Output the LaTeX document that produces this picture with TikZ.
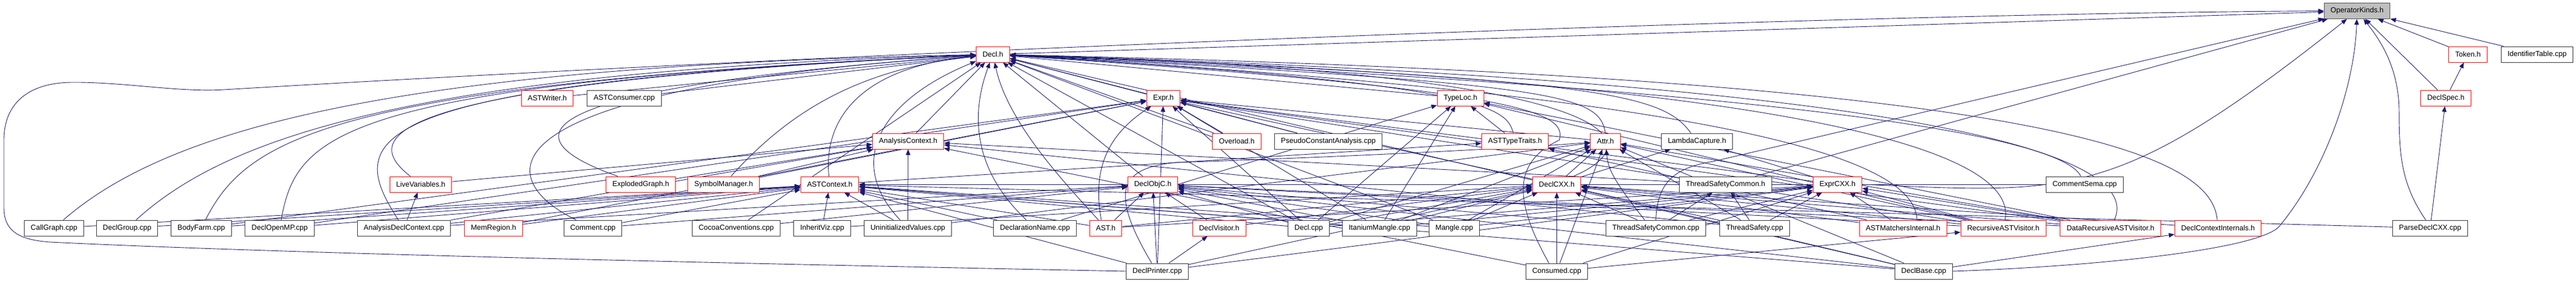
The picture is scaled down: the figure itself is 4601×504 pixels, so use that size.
\documentclass[tikz,border=0pt]{standalone}
\usepackage{fontspec}
\setmainfont{Liberation Sans}
\usetikzlibrary{arrows.meta,backgrounds}
\definecolor{edgeblue}{RGB}{25,25,112}
\definecolor{rootgray}{RGB}{191,191,191}
\begin{document}
\begin{tikzpicture}[x=1pt,y=-1pt,
  filebox/.style={draw,fill=white,line width=1pt,inner xsep=11.5pt,inner ysep=0pt,
    minimum height=28pt,font=\fontsize{13}{15}\selectfont},
  hdr/.style={filebox,draw=red},
  src/.style={filebox,draw=black!80},
  root/.style={filebox,draw=black!70,fill=rootgray},
  inc/.style={draw=edgeblue,line width=0.9pt,-{Triangle[length=10pt,width=8pt]}}]
  \useasboundingbox (0,0) rectangle (4601,504);
  \node[root] (ok) at (4210,19.5) {OperatorKinds.h};
  \node[hdr] (decl) at (1773.5,97) {Decl.h};
  \node[hdr] (token) at (4408,97) {Token.h};
  \node[src] (idtable) at (4531.5,97) {IdentifierTable.cpp};
  \node[hdr] (astwriter) at (977.5,175) {ASTWriter.h};
  \node[src] (astconsumer) at (1115,175) {ASTConsumer.cpp};
  \node[hdr] (expr) at (2078,175) {Expr.h};
  \node[hdr] (typeloc) at (2608.5,175) {TypeLoc.h};
  \node[hdr] (declspec) at (4368.5,175) {DeclSpec.h};
  \node[hdr] (analysisctx) at (1622,252) {AnalysisContext.h};
  \node[hdr] (overload) at (2209,252) {Overload.h};
  \node[src] (pseudo) at (2372.5,252) {PseudoConstantAnalysis.cpp};
  \node[hdr] (asttraits) at (2706,252) {ASTTypeTraits.h};
  \node[hdr] (attr) at (2867.5,252) {Attr.h};
  \node[src] (lambda) at (3031,252) {LambdaCapture.h};
  \node[hdr] (livevars) at (751.5,329) {LiveVariables.h};
  \node[hdr] (exploded) at (1144.5,329) {ExplodedGraph.h};
  \node[hdr] (symmgr) at (1292.5,329) {SymbolManager.h};
  \node[hdr] (astctx) at (1482,329) {ASTContext.h};
  \node[hdr] (declobjc) at (2059,329) {DeclObjC.h};
  \node[hdr] (declcxx) at (2780.5,329) {DeclCXX.h};
  \node[src] (tscommonh) at (3082,329) {ThreadSafetyCommon.h};
  \node[hdr] (exprcxx) at (3282,329) {ExprCXX.h};
  \node[src] (commentsema) at (3723.5,329) {CommentSema.cpp};
  \node[src] (callgraph) at (96.5,407) {CallGraph.cpp};
  \node[src] (declgroup) at (227,407) {DeclGroup.cpp};
  \node[src] (bodyfarm) at (359.5,407) {BodyFarm.cpp};
  \node[src] (declopenmp) at (499.5,407) {DeclOpenMP.cpp};
  \node[src] (adc) at (721.5,407) {AnalysisDeclContext.cpp};
  \node[hdr] (memregion) at (881.5,407) {MemRegion.h};
  \node[src] (comment) at (1059,407) {Comment.cpp};
  \node[src] (cocoa) at (1315,407) {CocoaConventions.cpp};
  \node[src] (inheritviz) at (1468.5,407) {InheritViz.cpp};
  \node[src] (uninit) at (1621.5,407) {UninitializedValues.cpp};
  \node[src] (declname) at (1848.5,407) {DeclarationName.cpp};
  \node[hdr] (ast) at (1975,407) {AST.h};
  \node[hdr] (declvisitor) at (2177.5,407) {DeclVisitor.h};
  \node[src] (declcpp) at (2337.5,407) {Decl.cpp};
  \node[src] (itanium) at (2464,407) {ItaniumMangle.cpp};
  \node[src] (mangle) at (2597.5,407) {Mangle.cpp};
  \node[src] (tscommoncpp) at (2957.5,407) {ThreadSafetyCommon.cpp};
  \node[src] (threadsafety) at (3134,407) {ThreadSafety.cpp};
  \node[hdr] (matchers) at (3399,407) {ASTMatchersInternal.h};
  \node[hdr] (rav) at (3578,407) {RecursiveASTVisitor.h};
  \node[hdr] (drav) at (3769.5,407) {DataRecursiveASTVisitor.h};
  \node[hdr] (dcinternals) at (3961.5,407) {DeclContextInternals.h};
  \node[src] (parsedeclcxx) at (4340.5,407) {ParseDeclCXX.cpp};
  \node[src] (declprinter) at (2067,484) {DeclPrinter.cpp};
  \node[src] (consumed) at (2780.5,484) {Consumed.cpp};
  \node[src] (declbase) at (3436,484) {DeclBase.cpp};
  \begin{scope}[on background layer]
  \foreach \a/\b in {decl/ok,token/ok,idtable/ok,declspec/ok,tscommonh/ok,
      declspec/token,parsedeclcxx/declspec,
      astwriter/decl,astconsumer/decl,analysisctx/decl,expr/decl,typeloc/decl,
      overload/decl,pseudo/decl,declobjc/decl,declcpp/decl,mangle/decl,
      declbase/decl,cocoa/decl,
      bodyfarm/expr,declopenmp/expr,memregion/expr,symmgr/expr,overload/expr,
      pseudo/expr,attr/expr,declcxx/expr,exprcxx/expr,declcpp/expr,itanium/expr,
      rav/expr,drav/expr,declprinter/expr,
      callgraph/astctx,declgroup/astctx,bodyfarm/astctx,declopenmp/astctx,
      adc/astctx,memregion/astctx,comment/astctx,inheritviz/astctx,uninit/astctx,
      declname/astctx,ast/astctx,declcpp/astctx,itanium/astctx,mangle/astctx,
      declprinter/astctx,declbase/astctx,commentsema/astctx,parsedeclcxx/astctx,
      livevars/analysisctx,exploded/analysisctx,symmgr/analysisctx,
      uninit/analysisctx,adc/analysisctx,consumed/analysisctx,
      threadsafety/analysisctx,tscommonh/analysisctx,
      declcpp/typeloc,itanium/typeloc,declname/typeloc,asttraits/typeloc,
      rav/typeloc,drav/typeloc,astctx/asttraits,matchers/asttraits,
      declcxx/attr,uninit/attr,declcpp/attr,itanium/attr,mangle/attr,
      consumed/attr,threadsafety/attr,rav/attr,drav/attr,declbase/attr,
      declcxx/lambda,exprcxx/lambda,adc/livevars,
      cocoa/declobjc,comment/declobjc,adc/declobjc,ast/declobjc,
      declprinter/declobjc,declvisitor/declobjc,declcpp/declobjc,
      itanium/declobjc,mangle/declobjc,rav/declobjc,drav/declobjc,
      declbase/declobjc,tscommoncpp/declobjc,
      ast/declcxx,declprinter/declcxx,inheritviz/declcxx,declvisitor/declcxx,
      consumed/declcxx,tscommoncpp/declcxx,threadsafety/declcxx,matchers/declcxx,
      rav/declcxx,drav/declcxx,dcinternals/declcxx,declcpp/declcxx,
      itanium/declcxx,mangle/declcxx,declbase/declcxx,
      tscommoncpp/tscommonh,threadsafety/tscommonh,
      ast/exprcxx,declprinter/exprcxx,declcpp/exprcxx,itanium/exprcxx,
      mangle/exprcxx,consumed/exprcxx,threadsafety/exprcxx,tscommoncpp/exprcxx,
      matchers/exprcxx,rav/exprcxx,drav/exprcxx,
      declprinter/declvisitor,consumed/rav,declbase/dcinternals}
    \draw[inc] (\a) -- (\b);
  \draw[inc] (declprinter.west) .. controls (1300,470) and (500,452) .. (90,432)
    .. controls (30,428) and (7,410) .. (7,370) -- (7,250)
    .. controls (7,185) and (50,148) .. (127,147)
    .. controls (220,146) and (320,165) .. (400,160)
    .. controls (1500,95) and (3200,25) .. (ok.west);
  \draw[inc] (declbase.east) .. controls (3750,475) and (4030,445) .. (4070,405)
    .. controls (4150,310) and (4205,160) .. (ok);
  \draw[inc] ([xshift=-8pt]parsedeclcxx.north) .. controls (4290,330) and (4285,280) .. (4285,200)
    .. controls (4285,120) and (4250,70) .. (ok);
  \draw[inc] (tscommoncpp.north) .. controls (2960,330) and (2985,300) .. (3060,288) -- (ok);
  \draw[inc] (exprcxx.east) .. controls (3700,345) and (3780,360) .. (ok);
  \draw[inc] (callgraph) .. controls (300,230) and (700,118) .. (decl);
  \draw[inc] (declgroup) .. controls (400,250) and (720,128) .. (decl);
  \draw[inc] (bodyfarm) .. controls (440,250) and (580,150) .. (decl);
  \draw[inc] (declopenmp) .. controls (530,240) and (600,150) .. (decl);
  \draw[inc] ([xshift=-10pt]adc.north) .. controls (620,250) and (610,150) .. (decl);
  \draw[inc] (livevars) .. controls (650,250) and (640,150) .. (decl);
  \draw[inc] (comment) .. controls (880,320) and (840,160) .. (decl);
  \draw[inc] (exploded) .. controls (920,250) and (890,160) .. (decl);
  \draw[inc] (symmgr) .. controls (1400,210) and (1520,125) .. (decl);
  \draw[inc] (astctx) .. controls (1470,210) and (1540,120) .. (decl);
  \draw[inc] (uninit) .. controls (1510,290) and (1570,180) .. (decl);
  \draw[inc] (declname) .. controls (1735,300) and (1735,200) .. (decl);
  \draw[inc] (ast) .. controls (1905,330) and (1800,220) .. (decl);
  \draw[inc] ([xshift=-8pt]ast.north) .. controls (1950,300) and (1980,240) .. (expr);
  \draw[inc] ([xshift=-10pt]declprinter.north) .. controls (1980,340) and (2000,300) .. (2100,290)
    .. controls (2400,280) and (2700,265) .. (attr);
  \draw[inc] ([xshift=-20pt]tscommoncpp.north) .. controls (2880,320) and (2872,300) .. (attr);
  \draw[inc] ([xshift=-14pt]consumed.north) .. controls (2705,360) and (2700,290) .. (2785,250)
    .. controls (2800,200) and (2720,160) .. (decl);
  \draw[inc] ([xshift=30pt]declcxx.north) .. controls (2960,250) and (2900,130) .. (decl);
  \draw[inc] (attr.north) .. controls (2855,170) and (2800,150) .. (decl);
  \draw[inc] (lambda) .. controls (2970,170) and (2880,140) .. (decl);
  \draw[inc] ([xshift=-3pt]asttraits.north) .. controls (2690,195) and (2670,150) .. (decl);
  \draw[inc] (rav) .. controls (3600,300) and (3400,150) .. (decl);
  \draw[inc] (drav) .. controls (3820,300) and (3600,150) .. (decl);
  \draw[inc] (dcinternals) .. controls (3950,280) and (3700,140) .. (decl);
  \draw[inc] (commentsema) .. controls (3690,260) and (3400,170) .. (decl);
  \draw[inc] ([xshift=25pt]matchers.north) .. controls (3420,300) and (3200,180) .. (decl);
  \end{scope}
\end{tikzpicture}
\end{document}
